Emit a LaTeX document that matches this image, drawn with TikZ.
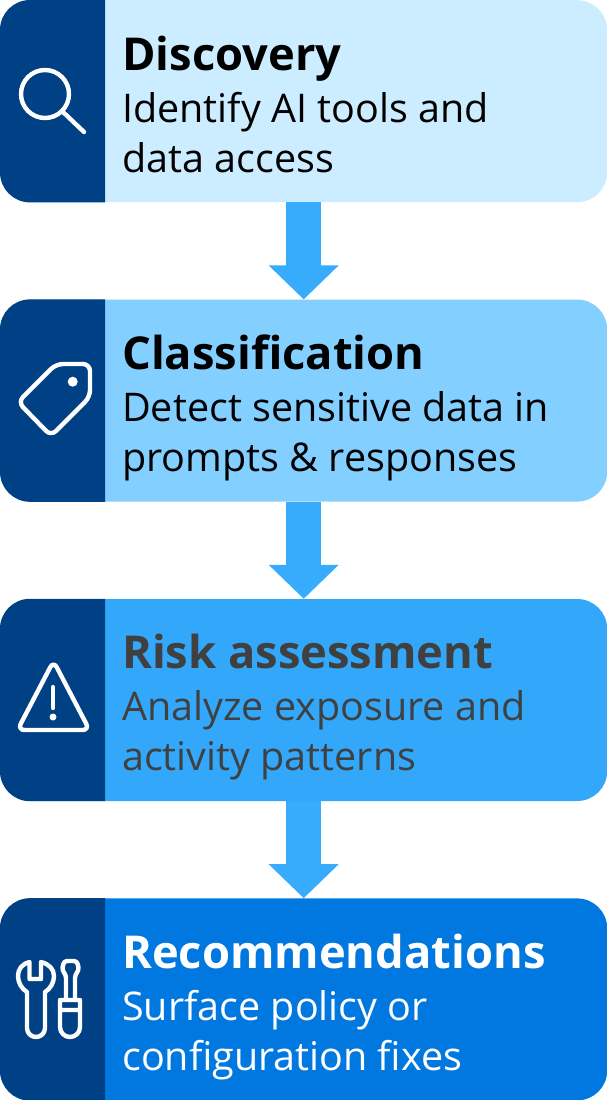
\documentclass[tikz,border=0pt]{standalone}
\usepackage{fontspec}
\setmainfont{Open Sans}
\usepackage{tikz}
\usetikzlibrary{positioning,arrows.meta}
\definecolor{tabblue}{HTML}{004185}
\definecolor{paleblue}{HTML}{CCEDFF}
\definecolor{skyblue}{HTML}{83CFFF}
\definecolor{midblue}{HTML}{33A8FB}
\definecolor{deepblue}{HTML}{0078E0}
\definecolor{arrowblue}{HTML}{38ACFC}
\definecolor{darktext}{HTML}{404040}
\newcommand{\sidetab}[1]{\fill[tabblue] ([xshift=105pt]#1.north west) [rounded corners=30pt] -- (#1.north west) -- (#1.south west) [sharp corners] -- ([xshift=105pt]#1.south west) -- cycle;}

\begin{document}
\begin{tikzpicture}[
  x=1pt, y=1pt,
  node distance=97pt,
  stage/.style={rounded corners=30pt, minimum width=607pt, minimum height=202pt, inner sep=0pt},
  heading/.style={anchor=base west, inner sep=0pt, xshift=122pt, yshift=-70pt, font=\fontsize{45.3}{46}\selectfont\bfseries},
  lineone/.style={anchor=base west, inner sep=0pt, xshift=122pt, yshift=-122pt, font=\fontsize{39.5}{40}\selectfont},
  linetwo/.style={anchor=base west, inner sep=0pt, xshift=122pt, yshift=-172pt, font=\fontsize{39.5}{40}\selectfont},
  arrow/.style={-{Triangle[length=34pt,width=68pt]}, line width=35pt, arrowblue},
  icon/.style={draw=white, line width=4.4pt, line cap=round, line join=round},
]
  \useasboundingbox (0,0) rectangle (607,-1100);

  \node[stage, fill=paleblue, anchor=north west] (discovery) at (0,0) {};
  \node[stage, fill=skyblue, below=of discovery] (classification) {};
  \node[stage, fill=midblue, below=of classification] (risk) {};
  \node[stage, fill=deepblue, below=of risk] (fixes) {};

  \sidetab{discovery}
  \sidetab{classification}
  \sidetab{risk}
  \sidetab{fixes}

  \draw[arrow] (discovery) -- (classification);
  \draw[arrow] (classification) -- (risk);
  \draw[arrow] (risk) -- (fixes);

  \node[heading, text=black] (disctitle) at (discovery.north west) {Discovery};
  \node[lineone, text=black] (disca) at (discovery.north west) {Identify AI tools and};
  \node[linetwo, text=black] (discb) at (discovery.north west) {data access};

  \node[heading, text=black] (classtitle) at (classification.north west) {Classification};
  \node[lineone, text=black] (classa) at (classification.north west) {Detect sensitive data in};
  \node[linetwo, text=black] (classb) at (classification.north west) {prompts \& responses};

  \node[heading, text=darktext] (risktitle) at (risk.north west) {Risk assessment};
  \node[lineone, text=darktext] (riska) at (risk.north west) {Analyze exposure and};
  \node[linetwo, text=darktext] (riskb) at (risk.north west) {activity patterns};

  \node[heading, text=white] (fixtitle) at (fixes.north west) {Recommendations};
  \node[lineone, text=white] (fixa) at (fixes.north west) {Surface policy or};
  \node[linetwo, text=white] (fixb) at (fixes.north west) {configuration fixes};

  % icons
  \draw[icon] (45,-94) circle (24pt) (63,-112) -- (84,-132);

  \draw[icon, rounded corners=7pt] (56,-364) -- (90,-364) -- (90,-397) -- (51,-436) -- (18,-402) -- cycle;
  \fill[white] (72.7,-381.7) circle (5pt);

  \draw[icon, rounded corners=7pt] (53.5,-661) -- (89.5,-730) -- (17.5,-730) -- cycle;
  \draw[icon] (53,-687) -- (53,-708);
  \fill[white] (53,-717) circle (3.5pt);

  \draw[icon] (29.5,-962) -- (29.5,-979) -- (41,-979) -- (41,-962)
    .. controls (49,-964) and (54,-969) .. (54,-976)
    .. controls (54,-983) and (50,-989) .. (45,-992)
    -- (45,-1028) arc (0:-180:9pt) -- (27,-992)
    .. controls (22,-989) and (18,-983) .. (18,-976)
    .. controls (18,-969) and (22,-964) .. (29.5,-962) -- cycle;
  \draw[icon, rounded corners=3pt] (66,-1000) -- (66,-975) -- (62,-970) -- (64,-961) -- (77,-961) -- (79,-970) -- (75,-975) -- (75,-1000);
  \draw[icon] (60,-1000) -- (80,-1000) -- (80,-1027) arc (0:-180:10pt) -- cycle (60,-1010) -- (80,-1010);
\end{tikzpicture}
\end{document}
